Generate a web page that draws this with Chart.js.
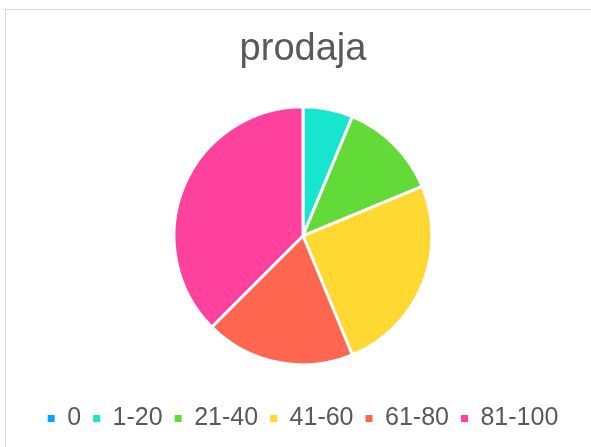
<!DOCTYPE html>
<html>
<head>
<meta charset="utf-8">
<script src="https://cdn.jsdelivr.net/npm/chart.js@4/dist/chart.umd.min.js"></script>
<style>
    html, body { margin: 0; padding: 0; background: #fff; overflow: hidden; }
    #frame {
        position: absolute;
        left: 5px;
        top: 9px;
        width: 620px;
        height: 460px;
        border: 1px solid #d9d9d9;
        box-sizing: border-box;
    }
    #wrap { position: absolute; left: 0; top: 0; width: 591px; height: 447px; }
</style>
</head>
<body>
<div id="frame"></div>
<div id="wrap"><canvas id="myChart" width="591" height="447"></canvas></div>
<script>
const labels = ['0', '1-20', '21-40', '41-60', '61-80', '81-100'];
const values = [0, 1, 2, 4, 3, 6];
const colors = ['#0aa0ff', '#17e6cf', '#62da37', '#ffd932', '#ff6650', '#ff419e'];

const data = {
    labels: labels,
    datasets: [{
        label: 'prodaja',
        data: values,
        backgroundColor: colors,
        borderColor: '#ffffff',
        borderWidth: 3
    }]
};

// legend squares without the white slice border
const legendLabels = (chart) => {
    const items = Chart.controllers.pie.overrides.plugins.legend.labels.generateLabels(chart);
    items.forEach(item => {
        item.lineWidth = 0;
        item.hidden = false;
    });
    return items;
}

const config = {
    type: 'pie',
    data,
    options: {
        responsive: false,
        animation: false,
        radius: 129,
        layout: {
            padding: { left: 15, right: 0, top: 0, bottom: 6 }
        },
        plugins: {
            title: {
                display: true,
                text: 'prodaja',
                color: '#595959',
                font: { family: 'Liberation Sans, Arial', size: 38, weight: 'normal' },
                padding: { top: 27, bottom: 5 }
            },
            legend: {
                position: 'bottom',
                labels: {
                    color: '#595959',
                    font: { family: 'Liberation Sans, Arial', size: 25 },
                    boxWidth: 7,
                    boxHeight: 7,
                    padding: 12,
                    generateLabels: legendLabels
                }
            },
            tooltip: { enabled: false }
        }
    }
};

const myChart = new Chart(
    document.getElementById('myChart').getContext('2d'),
    config
);
</script>
</body>
</html>
